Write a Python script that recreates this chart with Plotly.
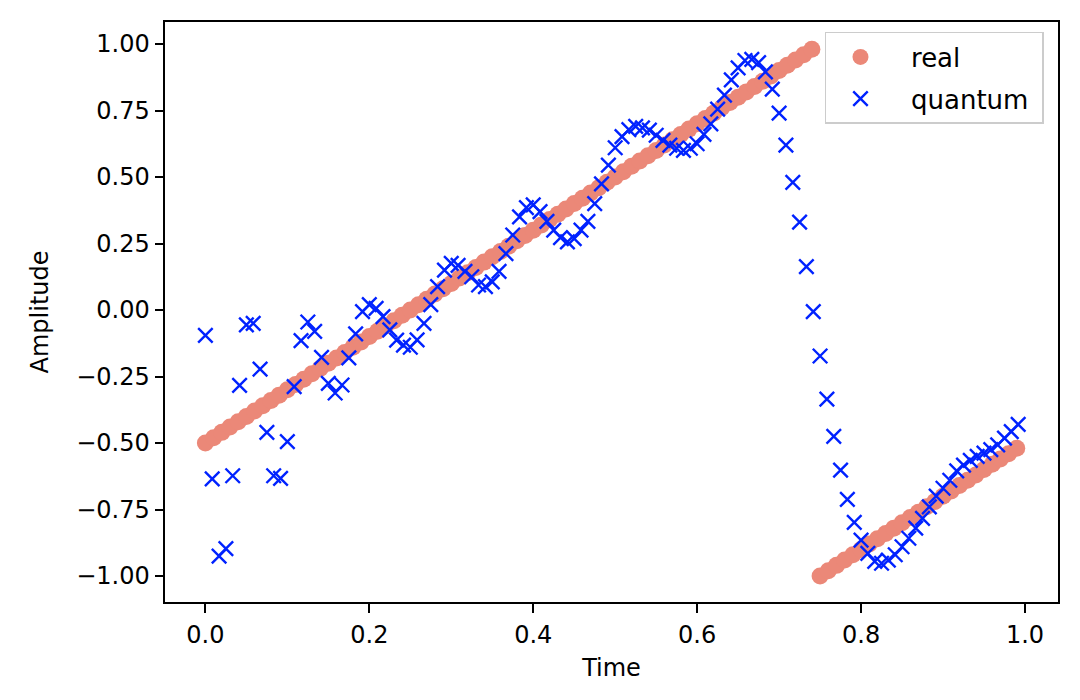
import plotly.graph_objects as go

# ---------------- data ----------------
real_time = [
    0.00, 0.01, 0.02, 0.03, 0.04, 0.05, 0.06, 0.07, 0.08, 0.09,
    0.10, 0.11, 0.12, 0.13, 0.14, 0.15, 0.16, 0.17, 0.18, 0.19,
    0.20, 0.21, 0.22, 0.23, 0.24, 0.25, 0.26, 0.27, 0.28, 0.29,
    0.30, 0.31, 0.32, 0.33, 0.34, 0.35, 0.36, 0.37, 0.38, 0.39,
    0.40, 0.41, 0.42, 0.43, 0.44, 0.45, 0.46, 0.47, 0.48, 0.49,
    0.50, 0.51, 0.52, 0.53, 0.54, 0.55, 0.56, 0.57, 0.58, 0.59,
    0.60, 0.61, 0.62, 0.63, 0.64, 0.65, 0.66, 0.67, 0.68, 0.69,
    0.70, 0.71, 0.72, 0.73, 0.74, 0.75, 0.76, 0.77, 0.78, 0.79,
    0.80, 0.81, 0.82, 0.83, 0.84, 0.85, 0.86, 0.87, 0.88, 0.89,
    0.90, 0.91, 0.92, 0.93, 0.94, 0.95, 0.96, 0.97, 0.98, 0.99,
]
real_amp = [
    -0.50, -0.48, -0.46, -0.44, -0.42, -0.40, -0.38, -0.36, -0.34, -0.32,
    -0.30, -0.28, -0.26, -0.24, -0.22, -0.20, -0.18, -0.16, -0.14, -0.12,
    -0.10, -0.08, -0.06, -0.04, -0.02, 0.00, 0.02, 0.04, 0.06, 0.08,
    0.10, 0.12, 0.14, 0.16, 0.18, 0.20, 0.22, 0.24, 0.26, 0.28,
    0.30, 0.32, 0.34, 0.36, 0.38, 0.40, 0.42, 0.44, 0.46, 0.48,
    0.50, 0.52, 0.54, 0.56, 0.58, 0.60, 0.62, 0.64, 0.66, 0.68,
    0.70, 0.72, 0.74, 0.76, 0.78, 0.80, 0.82, 0.84, 0.86, 0.88,
    0.90, 0.92, 0.94, 0.96, 0.98, -1.00, -0.98, -0.96, -0.94, -0.92,
    -0.90, -0.88, -0.86, -0.84, -0.82, -0.80, -0.78, -0.76, -0.74, -0.72,
    -0.70, -0.68, -0.66, -0.64, -0.62, -0.60, -0.58, -0.56, -0.54, -0.52,
]

quantum_time = [
    0.0, 0.0083, 0.0167, 0.025, 0.0333, 0.0417, 0.05, 0.0583, 0.0667, 0.075, 0.0833, 0.0917,
    0.1, 0.1083, 0.1167, 0.125, 0.1333, 0.1417, 0.15, 0.1583, 0.1667, 0.175, 0.1833, 0.1917,
    0.2, 0.2083, 0.2167, 0.225, 0.2333, 0.2417, 0.25, 0.2583, 0.2667, 0.275, 0.2833, 0.2917,
    0.3, 0.3083, 0.3167, 0.325, 0.3333, 0.3417, 0.35, 0.3583, 0.3667, 0.375, 0.3833, 0.3917,
    0.4, 0.4083, 0.4167, 0.425, 0.4333, 0.4417, 0.45, 0.4583, 0.4667, 0.475, 0.4833, 0.4917,
    0.5, 0.5083, 0.5167, 0.525, 0.5333, 0.5417, 0.55, 0.5583, 0.5667, 0.575, 0.5833, 0.5917,
    0.6, 0.6083, 0.6167, 0.625, 0.6333, 0.6417, 0.65, 0.6583, 0.6667, 0.675, 0.6833, 0.6917,
    0.7, 0.7083, 0.7167, 0.725, 0.7333, 0.7417, 0.75, 0.7583, 0.7667, 0.775, 0.7833, 0.7917,
    0.8, 0.8083, 0.8167, 0.825, 0.8333, 0.8417, 0.85, 0.8583, 0.8667, 0.875, 0.8833, 0.8917,
    0.9, 0.9083, 0.9167, 0.925, 0.9333, 0.9417, 0.95, 0.9583, 0.9667, 0.975, 0.9833, 0.9917,
]
quantum_amp = [
    -0.095, -0.635, -0.925, -0.897, -0.623, -0.283, -0.056, -0.050, -0.222, -0.460, -0.623, -0.633,
    -0.495, -0.288, -0.115, -0.045, -0.080, -0.178, -0.276, -0.312, -0.282, -0.180, -0.090, -0.006,
    0.020, 0.006, -0.025, -0.075, -0.113, -0.132, -0.140, -0.112, -0.050, 0.020, 0.088, 0.150,
    0.175, 0.168, 0.145, 0.125, 0.094, 0.088, 0.106, 0.145, 0.212, 0.282, 0.350, 0.385,
    0.395, 0.370, 0.333, 0.300, 0.272, 0.256, 0.268, 0.300, 0.333, 0.400, 0.474, 0.545,
    0.610, 0.652, 0.678, 0.690, 0.685, 0.676, 0.657, 0.638, 0.620, 0.608, 0.600, 0.608,
    0.625, 0.660, 0.700, 0.755, 0.808, 0.865, 0.910, 0.938, 0.942, 0.930, 0.895, 0.830,
    0.740, 0.620, 0.480, 0.330, 0.163, -0.006, -0.173, -0.335, -0.475, -0.602, -0.712, -0.798,
    -0.865, -0.915, -0.945, -0.952, -0.940, -0.920, -0.890, -0.858, -0.820, -0.783, -0.740, -0.700,
    -0.670, -0.640, -0.605, -0.583, -0.565, -0.550, -0.538, -0.525, -0.507, -0.482, -0.457, -0.430,
]

x_ticks = [0.0, 0.2, 0.4, 0.6, 0.8, 1.0]
y_ticks = [-1.00, -0.75, -0.50, -0.25, 0.00, 0.25, 0.50, 0.75, 1.00]

# ---------------- figure ----------------
FONT = "DejaVu Sans"
FS = 24
LFS = 26

fig = go.Figure()
fig.add_trace(go.Scatter(
    x=real_time, y=real_amp, mode="markers", name="\u00a0\u00a0real",
    legendgroup="a",
    marker=dict(symbol="circle", size=17, color="#eb8878", line=dict(width=0)),
))
fig.add_trace(go.Scatter(
    x=quantum_time, y=quantum_amp, mode="markers", name="\u00a0\u00a0quantum\u00a0",
    legendgroup="b",
    marker=dict(symbol="x-thin", size=14.5, color="#0022ff",
                line=dict(width=2.4, color="#0022ff")),
))

axis_common = dict(
    showline=True, linecolor="black", linewidth=2, mirror=True,
    ticks="outside", ticklen=8.5, tickwidth=2, tickcolor="black",
    showgrid=False, zeroline=False,
    tickfont=dict(family=FONT, size=FS, color="black"),
)

fig.update_layout(
    width=1080, height=700,
    margin=dict(l=165, r=22, t=22, b=98, autoexpand=False),
    paper_bgcolor="white", plot_bgcolor="white",
    font=dict(family=FONT, size=FS, color="black"),
    xaxis=dict(
        range=[-0.0493, 1.0403], tickvals=x_ticks, tickformat=".1f",
        ticklabelstandoff=2,
        title=dict(text="Time", font=dict(family=FONT, size=FS), standoff=11),
        **axis_common,
    ),
    yaxis=dict(
        range=[-1.0977, 1.0827], tickvals=y_ticks, tickformat=".2f",
        title=dict(text="Amplitude", font=dict(family=FONT, size=FS), standoff=21),
        **axis_common,
    ),
    showlegend=True,
    legend=dict(
        x=0.9843, y=0.9828, xanchor="right", yanchor="top",
        bgcolor="rgba(255,255,255,0.8)", bordercolor="#cccccc", borderwidth=1.5,
        font=dict(family=FONT, size=LFS, color="black"),
        itemwidth=58, tracegroupgap=5,
    ),
)

fig.write_html(
    "out.html",
    config={"displayModeBar": False},
    post_script="document.body.style.margin='0';document.body.style.overflow='hidden';",
)
